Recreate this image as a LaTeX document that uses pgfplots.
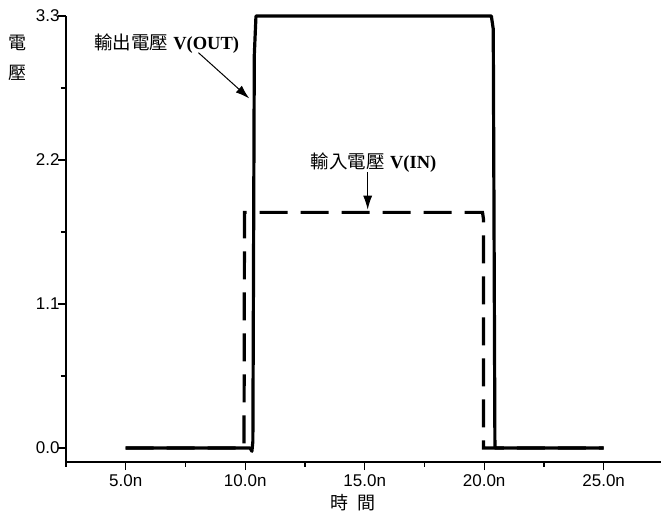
\documentclass[border=0pt]{standalone}
\usepackage{pgfplots}
\pgfplotsset{compat=1.18}
\usepackage{fontspec}
\setmainfont{Liberation Sans}
\newfontfamily\cjk{Noto Sans CJK TC}
\newfontfamily\tnr{Liberation Serif}
\usetikzlibrary{arrows.meta}
\begin{document}
\begin{tikzpicture}
\useasboundingbox (0,0) rectangle (661pt,524pt);
\begin{axis}[
  at={(66pt,62pt)}, anchor=south west,
  scale only axis, width=595pt, height=446pt,
  xmin=2.5, xmax=27.4, ymin=-0.107, ymax=3.3,
  axis x line*=bottom, axis y line*=left,
  axis line style={line width=1.3pt},
  clip=false,
  xtick={5,10,15,20,25},
  xticklabels={5.0n,10.0n,15.0n,20.0n,25.0n},
  minor xtick={2.5,7.5,12.5,17.5,22.5},
  ytick={0,1.1,2.2,3.3},
  yticklabels={0.0,1.1,2.2,3.3},
  minor ytick={0.55,1.65,2.75},
  tick align=outside,
  major tick length=8pt, minor tick length=5pt,
  every tick/.style={line width=1.2pt, black},
  /pgf/number format/assume math mode=true,
  tick label style={font=\fontsize{17}{19}\selectfont},
  xticklabel style={yshift=-1pt},
  yticklabel style={anchor=east, xshift=5pt},
]
\addplot[black, line width=3.2pt, line join=round] coordinates {
  (5,0) (10.2,0) (10.28,-0.025) (10.32,0.05) (10.38,3.0) (10.45,3.3)
  (20.3,3.3) (20.38,3.2) (20.45,0) (25,0)
};
\addplot[black, line width=3.2pt, dash pattern=on 28pt off 13pt] coordinates {
  (5,0) (9.95,0) (9.97,1.8) (19.93,1.8) (19.97,1.75) (19.97,0) (25,0)
};
\node[font=\fontsize{18.5}{20}\selectfont] at (axis cs:6.71,3.09) {{\cjk 輸出電壓} {\tnr\bfseries V(OUT)}};
\draw[line width=1pt, -{Latex[length=14pt,width=9pt]}] (axis cs:8.04,3.02) -- (axis cs:10.17,2.67);
\node[font=\fontsize{18.5}{20}\selectfont] at (axis cs:15.375,2.18) {{\cjk 輸入電壓} {\tnr\bfseries V(IN)}};
\draw[line width=1pt, -{Latex[length=14pt,width=9pt]}] (axis cs:15.125,2.11) -- (axis cs:15.125,1.82);
\node[font=\fontsize{18}{20}\selectfont\cjk] at (axis description cs:-0.0807,0.939) {電};
\node[font=\fontsize{18}{20}\selectfont\cjk] at (axis description cs:-0.0807,0.872) {壓};
\node[font=\fontsize{18}{20}\selectfont\cjk] at (axis description cs:0.482,-0.092) {時\hspace{0.5em}間};
\end{axis}
\end{tikzpicture}
\end{document}
